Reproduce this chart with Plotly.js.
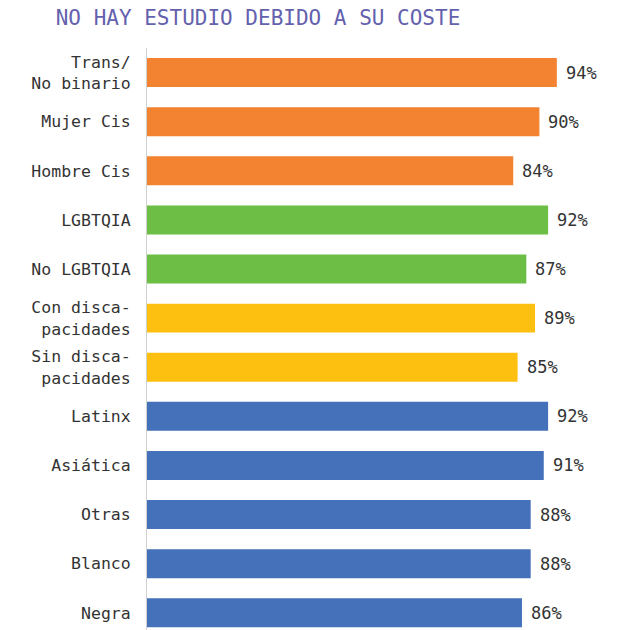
<!DOCTYPE html>
<html>
<head>
<meta charset="utf-8">
<script src="https://cdn.plot.ly/plotly-3.0.1.min.js"></script>
<style>html,body{margin:0;padding:0;background:#fff;}#chart{width:618px;height:630px;}</style>
</head>
<body>
<div id="chart"></div>
<script>
const categories = ["Trans/<br>No binario", "Mujer Cis", "Hombre Cis", "LGBTQIA", "No LGBTQIA", "Con disca-<br>pacidades", "Sin disca-<br>pacidades", "Latinx", "Asiática", "Otras", "Blanco", "Negra"];
const values = [94, 90, 84, 92, 87, 89, 85, 92, 91, 88, 88, 86];
const groups = ["genero", "genero", "genero", "lgbtqia", "lgbtqia", "disc", "disc", "raza", "raza", "raza", "raza", "raza"];
const groupColors = {genero: "#F38231", lgbtqia: "#6CBE45", disc: "#FDC010", raza: "#4571BA"};
const titleText = "NO HAY ESTUDIO DEBIDO A SU COSTE";

const mono = "'DejaVu Sans Mono', 'Liberation Mono', monospace";

const trace = {
  type: "bar",
  orientation: "h",
  x: values,
  y: categories,
  marker: {color: groups.map(g => groupColors[g])},
  hoverinfo: "none"
};

const annotations = values.map((v, i) => ({
  x: v, y: categories[i], xref: "x", yref: "y",
  text: v + "%", showarrow: false, xanchor: "left", xshift: 7,
  font: {family: mono, size: 17, color: "#333"}
}));

const layout = {
  width: 618, height: 630,
  margin: {l: 147, r: 35, t: 48, b: 0},
  paper_bgcolor: "#fff", plot_bgcolor: "#fff",
  showlegend: false,
  bargap: 0.41,
  title: {
    text: titleText,
    font: {family: mono, size: 21, color: "#6461AE"},
    x: 258/618, xref: "container", xanchor: "center",
    y: 1 - 18/630, yref: "container", yanchor: "middle"
  },
  xaxis: {range: [0, 100], showgrid: false, zeroline: false, showticklabels: false, showline: false, fixedrange: true},
  yaxis: {
    type: "category",
    range: [11.35, -0.5],
    showgrid: false, zeroline: false,
    showline: true, linecolor: "#d0d0d0", linewidth: 1,
    ticks: "outside", ticklen: 12, tickcolor: "rgba(0,0,0,0)",
    tickfont: {family: mono, size: 16.5, color: "#333"}
  },
  annotations: annotations
};

Plotly.newPlot("chart", [trace], layout, {displayModeBar: false, staticPlot: true});
</script>
</body>
</html>
